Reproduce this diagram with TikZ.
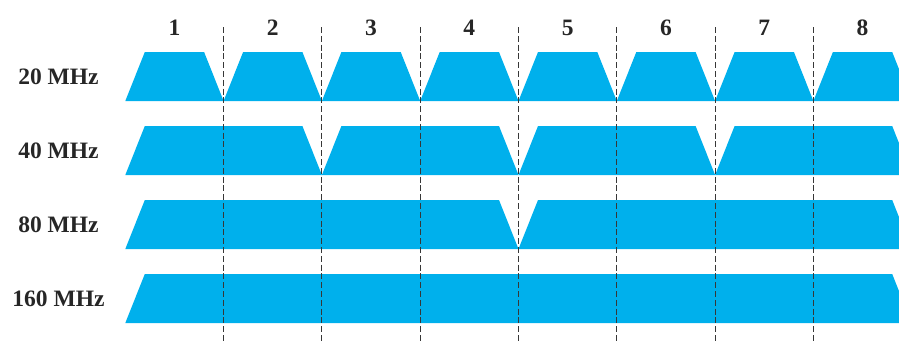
\documentclass[tikz,border=0pt]{standalone}
\usepackage{fontspec}
\setmainfont{Liberation Serif}
\definecolor{band}{RGB}{0,176,236}
\definecolor{sepgray}{RGB}{55,55,55}
\begin{document}
\begin{tikzpicture}[x=1pt,y=-1pt,
  bandshape/.style={fill=band,draw=none},
  sepline/.style={draw=sepgray,line width=1.3pt,dash pattern=on 6pt off 2.8pt},
  lbl/.style={font=\fontsize{23.5}{23.5}\selectfont\bfseries,inner sep=0pt,text=black!85}]
\useasboundingbox (0,0) rectangle (899,343);
\clip (0,0) rectangle (899,343);
\def\w{98.3}
\def\xo{125.3}
\def\s{19.5}
% bands
\foreach \r/\n/\txt in {0/1/20 MHz,1/2/40 MHz,2/4/80 MHz,3/8/160 MHz} {
  \pgfmathsetmacro\yt{52+74*\r}
  \pgfmathsetmacro\yb{\yt+49}
  \pgfmathtruncatemacro\m{8/\n-1}
  \foreach \k in {0,...,\m} {
    \pgfmathsetmacro\xa{\xo+\k*\n*\w}
    \pgfmathsetmacro\xb{\xa+\n*\w}
    \fill[bandshape] (\xa,\yb) -- (\xa+\s,\yt) -- (\xb-\s,\yt) -- (\xb,\yb) -- cycle;
  }
  \node[lbl] (row\r) at (58.5,\yt+24.5) {\txt};
}
% separators (snapped to pixel centres for even rendering)
\foreach \k in {1,...,7} {
  \pgfmathsetmacro\xs{floor(\xo+\k*\w)+0.5}
  \coordinate (st\k) at (\xs,27);
  \coordinate (sb\k) at (\xs,345);
  \draw[sepline] (st\k) -- (sb\k);
}
% channel numbers
\foreach \k in {1,...,8} {
  \node[lbl] (ch\k) at (\xo+\k*\w-0.5*\w,28) {\k};
}
\end{tikzpicture}
\end{document}
